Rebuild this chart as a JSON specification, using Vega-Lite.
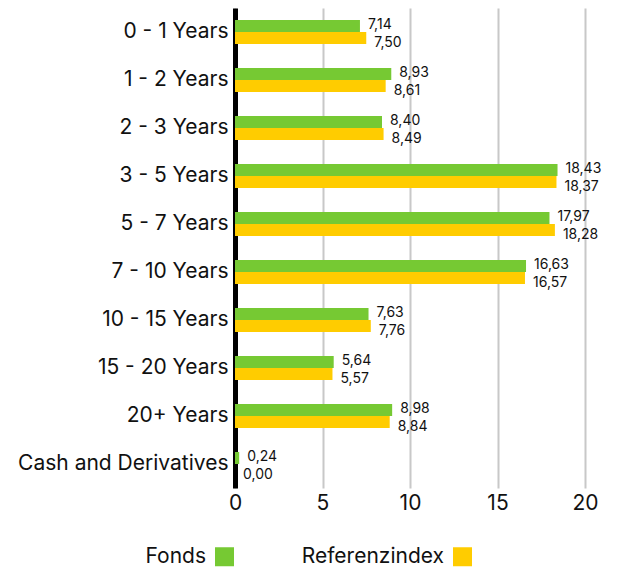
{
  "$schema": "https://vega.github.io/schema/vega-lite/v6.json",
  "autosize": "none",
  "padding": {"left": 235, "top": 8, "right": 33, "bottom": 86},
  "width": 350,
  "height": 480,
  "config": {
    "font": "Inter",
    "view": {"stroke": null},
    "locale": {"number": {"decimal": ",", "thousands": ".", "grouping": [3], "currency": ["", " €"]}}
  },
  "data": {
    "values": [
      {"band": "0 - 1 Years", "series": "Fonds", "value": 7.14},
      {"band": "0 - 1 Years", "series": "Referenzindex", "value": 7.50},
      {"band": "1 - 2 Years", "series": "Fonds", "value": 8.93},
      {"band": "1 - 2 Years", "series": "Referenzindex", "value": 8.61},
      {"band": "2 - 3 Years", "series": "Fonds", "value": 8.40},
      {"band": "2 - 3 Years", "series": "Referenzindex", "value": 8.49},
      {"band": "3 - 5 Years", "series": "Fonds", "value": 18.43},
      {"band": "3 - 5 Years", "series": "Referenzindex", "value": 18.37},
      {"band": "5 - 7 Years", "series": "Fonds", "value": 17.97},
      {"band": "5 - 7 Years", "series": "Referenzindex", "value": 18.28},
      {"band": "7 - 10 Years", "series": "Fonds", "value": 16.63},
      {"band": "7 - 10 Years", "series": "Referenzindex", "value": 16.57},
      {"band": "10 - 15 Years", "series": "Fonds", "value": 7.63},
      {"band": "10 - 15 Years", "series": "Referenzindex", "value": 7.76},
      {"band": "15 - 20 Years", "series": "Fonds", "value": 5.64},
      {"band": "15 - 20 Years", "series": "Referenzindex", "value": 5.57},
      {"band": "20+ Years", "series": "Fonds", "value": 8.98},
      {"band": "20+ Years", "series": "Referenzindex", "value": 8.84},
      {"band": "Cash and Derivatives", "series": "Fonds", "value": 0.24},
      {"band": "Cash and Derivatives", "series": "Referenzindex", "value": 0.00}
    ]
  },
  "encoding": {
    "y": {
      "field": "band",
      "type": "nominal",
      "sort": null,
      "title": null,
      "scale": {"paddingInner": 0.5, "paddingOuter": 0.25},
      "axis": {
        "domainColor": "#000000",
        "domainWidth": 5,
        "ticks": false,
        "labelFontSize": 21,
        "labelColor": "#111111",
        "labelPadding": 7,
        "labelLimit": 400
      }
    },
    "yOffset": {"field": "series", "type": "nominal", "sort": ["Fonds", "Referenzindex"]},
    "x": {
      "field": "value",
      "type": "quantitative",
      "title": null,
      "scale": {"domain": [0, 20], "nice": false},
      "axis": {
        "values": [0, 5, 10, 15, 20],
        "domain": false,
        "ticks": false,
        "grid": true,
        "gridColor": "#c8c8c8",
        "gridWidth": 2,
        "labelFontSize": 21,
        "labelColor": "#111111",
        "labelPadding": 4,
        "labelFlush": false
      }
    }
  },
  "layer": [
    {
      "mark": {"type": "bar"},
      "encoding": {
        "color": {
          "field": "series",
          "type": "nominal",
          "scale": {"domain": ["Fonds", "Referenzindex"], "range": ["#76C933", "#FFCC00"]},
          "legend": {
            "title": null,
            "orient": "none",
            "direction": "horizontal",
            "legendX": -21,
            "legendY": 538,
            "symbolType": "square",
            "symbolSize": 361,
            "symbolStrokeWidth": 0,
            "labelFontSize": 21,
            "labelColor": "#111111",
            "labelAlign": "right",
            "labelOffset": -29,
            "columnPadding": 67
          }
        }
      }
    },
    {
      "transform": [{"filter": "datum.series === 'Fonds'"}],
      "mark": {"type": "text", "align": "left", "baseline": "middle", "dx": 8, "dy": -1, "fontSize": 14, "color": "#111111"},
      "encoding": {
        "text": {"field": "value", "type": "quantitative", "format": ".2f"}
      }
    },
    {
      "transform": [{"filter": "datum.series === 'Referenzindex'"}],
      "mark": {"type": "text", "align": "left", "baseline": "middle", "dx": 8, "dy": 5, "fontSize": 14, "color": "#111111"},
      "encoding": {
        "text": {"field": "value", "type": "quantitative", "format": ".2f"}
      }
    }
  ]
}
